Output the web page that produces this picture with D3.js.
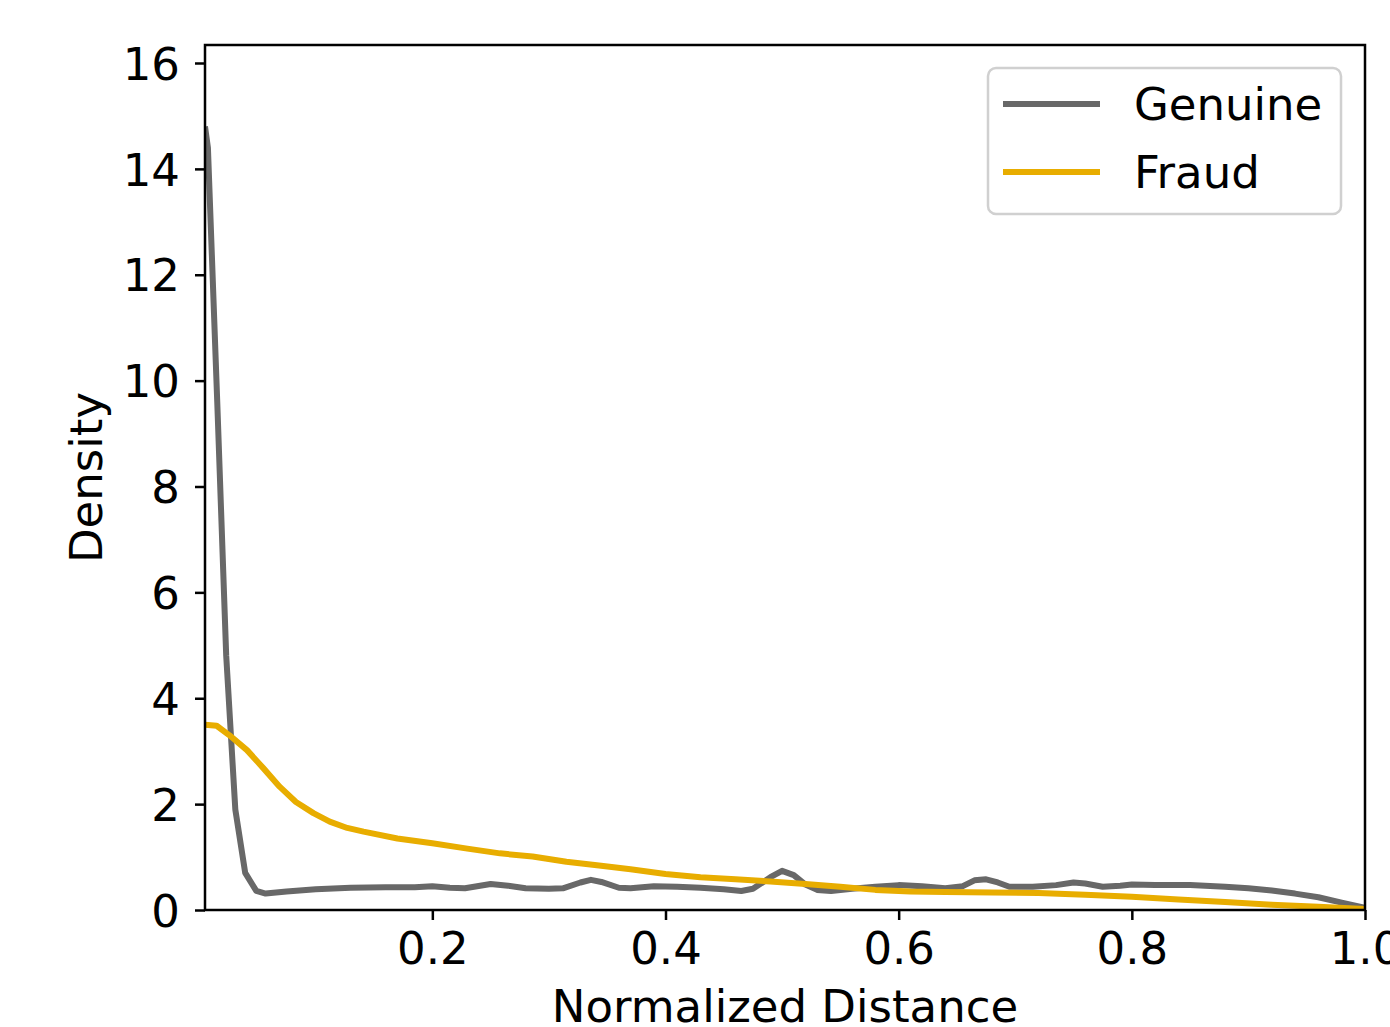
<!DOCTYPE html>
<html>
<head>
<meta charset="utf-8">
<script src="https://cdn.jsdelivr.net/npm/d3@7"></script>
<style>
  body { margin: 0; background: #fff; }
  text { font-family: "DejaVu Sans", sans-serif; fill: #000; }
</style>
</head>
<body>
<svg id="chart" width="1390" height="1027"></svg>
<script>
// Genuine density curve (x = normalized distance, y = density)
const genuineX = [0.005, 0.0075, 0.0155, 0.0232, 0.031, 0.0395, 0.049, 0.057, 0.075, 0.1, 0.13, 0.16, 0.185, 0.2, 0.215, 0.228, 0.25, 0.265, 0.28, 0.3, 0.312, 0.327, 0.336, 0.345, 0.36, 0.37, 0.39, 0.41, 0.43, 0.45, 0.465, 0.475, 0.49, 0.5, 0.51, 0.52, 0.53, 0.542, 0.56, 0.58, 0.6, 0.62, 0.64, 0.655, 0.665, 0.675, 0.685, 0.695, 0.715, 0.735, 0.75, 0.76, 0.775, 0.79, 0.8, 0.82, 0.85, 0.88, 0.9, 0.92, 0.94, 0.96, 0.98, 1.0];
const genuineY = [14.8, 14.4, 9.6, 4.8, 1.9, 0.70, 0.36, 0.31, 0.35, 0.39, 0.42, 0.43, 0.43, 0.45, 0.42, 0.41, 0.49, 0.46, 0.41, 0.40, 0.41, 0.52, 0.57, 0.53, 0.42, 0.41, 0.45, 0.44, 0.42, 0.39, 0.36, 0.40, 0.62, 0.74, 0.66, 0.48, 0.38, 0.36, 0.40, 0.44, 0.47, 0.45, 0.41, 0.45, 0.56, 0.58, 0.52, 0.44, 0.44, 0.47, 0.52, 0.50, 0.44, 0.46, 0.48, 0.47, 0.47, 0.44, 0.41, 0.37, 0.31, 0.24, 0.14, 0.04];

// Fraud density curve
const fraudX = [0.005, 0.015, 0.026, 0.041, 0.055, 0.069, 0.083, 0.098, 0.112, 0.127, 0.141, 0.17, 0.2, 0.23, 0.258, 0.286, 0.315, 0.343, 0.37, 0.4, 0.43, 0.46, 0.49, 0.52, 0.55, 0.58, 0.61, 0.64, 0.68, 0.72, 0.76, 0.8, 0.84, 0.88, 0.92, 0.96, 1.0];
const fraudY = [3.5, 3.48, 3.3, 3.02, 2.68, 2.33, 2.04, 1.83, 1.67, 1.55, 1.48, 1.35, 1.26, 1.16, 1.07, 1.01, 0.91, 0.84, 0.77, 0.68, 0.62, 0.58, 0.54, 0.49, 0.44, 0.38, 0.35, 0.34, 0.33, 0.32, 0.29, 0.25, 0.20, 0.15, 0.10, 0.06, 0.02];

const xTicks = [0.2, 0.4, 0.6, 0.8, 1.0];
const yTicks = [0, 2, 4, 6, 8, 10, 12, 14, 16];
const seriesNames = ["Genuine", "Fraud"];
const seriesColors = ["#686868", "#e8ad00"];

const margin = {top: 45, right: 25, bottom: 117, left: 205},
      width = 1390 - margin.left - margin.right,
      height = 1027 - margin.top - margin.bottom;

const x = d3.scaleLinear().domain([0.005, 1.0]).range([0, width]);
const y = d3.scaleLinear().domain([0, 16.34]).range([height, 0]);

const svg = d3.select("#chart")
  .append("g")
  .attr("transform", `translate(${margin.left},${margin.top})`);

const line = d3.line()
  .x(d => x(d[0]))
  .y(d => y(d[1]));

const series = [
  d3.zip(genuineX, genuineY),
  d3.zip(fraudX, fraudY)
];

svg.append("defs").append("clipPath").attr("id", "clip")
  .append("rect").attr("width", width).attr("height", height);

svg.append("g").attr("clip-path", "url(#clip)")
  .selectAll("path")
  .data(series)
  .enter().append("path")
  .attr("d", line)
  .attr("fill", "none")
  .attr("stroke", (d, i) => seriesColors[i])
  .attr("stroke-width", 6)
  .attr("stroke-linejoin", "round");

// axes
const xAxis = svg.append("g")
  .attr("transform", `translate(0,${height})`)
  .call(d3.axisBottom(x).tickValues(xTicks).tickFormat(d3.format(".1f")).tickSize(10).tickPadding(12));

const yAxis = svg.append("g")
  .call(d3.axisLeft(y).tickValues(yTicks).tickSize(10).tickPadding(15));

[xAxis, yAxis].forEach(g => {
  g.select(".domain").remove();
  g.selectAll(".tick line").attr("stroke", "#000").attr("stroke-width", 2.5);
  g.selectAll(".tick text").style("font-size", "45px").attr("fill", "#000");
});
yAxis.selectAll(".tick text").attr("dy", "0.36em");

// frame
svg.append("rect")
  .attr("width", width)
  .attr("height", height)
  .attr("fill", "none")
  .attr("stroke", "#000")
  .attr("stroke-width", 2.5);

svg.append("text")
  .attr("x", width / 2)
  .attr("y", height + 112)
  .style("text-anchor", "middle")
  .style("font-size", "45px")
  .text("Normalized Distance");

svg.append("text")
  .attr("transform", "rotate(-90)")
  .attr("x", -(height / 2))
  .attr("y", -103)
  .style("text-anchor", "middle")
  .style("font-size", "45px")
  .text("Density");

// legend
const legend = svg.append("g")
  .attr("transform", "translate(783,23)");

legend.append("rect")
  .attr("width", 353)
  .attr("height", 146)
  .attr("rx", 8)
  .attr("fill", "#fff")
  .attr("fill-opacity", 0.8)
  .attr("stroke", "#d0d0d0")
  .attr("stroke-width", 2.5);

const item = legend.selectAll(".item")
  .data(seriesNames)
  .enter().append("g")
  .attr("class", "item")
  .attr("transform", (d, i) => `translate(0,${36 + i * 68})`);

item.append("line")
  .attr("x1", 15).attr("x2", 112)
  .attr("stroke", (d, i) => seriesColors[i])
  .attr("stroke-width", 6);

item.append("text")
  .attr("x", 146)
  .attr("dy", "0.36em")
  .style("font-size", "45px")
  .text(d => d);
</script>
</body>
</html>
